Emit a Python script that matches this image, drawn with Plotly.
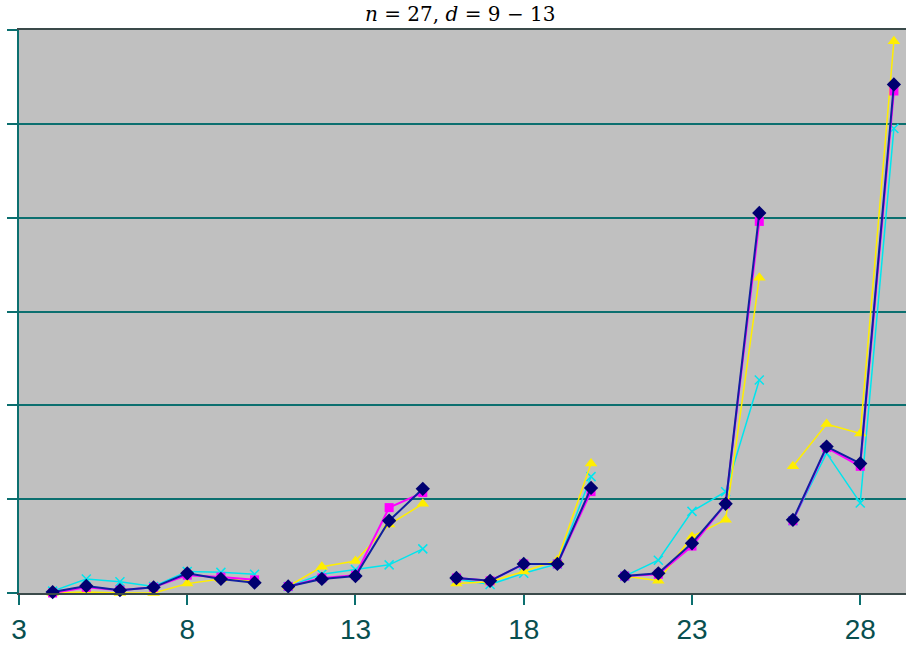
import plotly.graph_objects as go

# x positions; None separates the groups (no connecting line)
x_vals = [4, 5, 6, 7, 8, 9, 10, None,
          11, 12, 13, 14, 15, None,
          16, 17, 18, 19, 20, None,
          21, 22, 23, 24, 25, None,
          26, 27, 28, 29]

navy = [0.01, 0.075, 0.03, 0.06, 0.21, 0.15, 0.11, None,
        0.07, 0.15, 0.18, 0.77, 1.11, None,
        0.16, 0.13, 0.31, 0.31, 1.12, None,
        0.18, 0.21, 0.53, 0.95, 4.05, None,
        0.78, 1.56, 1.38, 5.42]
magenta = [0.0, 0.06, 0.03, 0.06, 0.19, 0.17, 0.14, None,
           0.07, 0.16, 0.19, 0.91, 1.07, None,
           0.16, 0.13, 0.31, 0.31, 1.08, None,
           0.18, 0.20, 0.50, 0.95, 3.96, None,
           0.77, 1.55, 1.35, 5.35]
yellow = [0.0, 0.01, 0.0, 0.0, 0.10, 0.15, 0.13, None,
          0.07, 0.28, 0.34, 0.73, 0.95, None,
          0.10, 0.12, 0.23, 0.35, 1.38, None,
          0.18, 0.13, 0.60, 0.78, 3.36, None,
          1.35, 1.80, 1.70, 5.88]
cyan = [0.02, 0.15, 0.12, 0.07, 0.23, 0.22, 0.20, None,
        0.07, 0.20, 0.25, 0.30, 0.47, None,
        0.15, 0.09, 0.21, 0.31, 1.24, None,
        0.18, 0.35, 0.87, 1.08, 2.27, None,
        0.77, 1.49, 0.96, 4.95]

x_ticks = [3, 8, 13, 18, 23, 28]
y_grid = [0, 1, 2, 3, 4, 5, 6]

TEAL = "#0b6f6f"

fig = go.Figure()
fig.add_trace(go.Scatter(x=x_vals, y=cyan, mode="lines+markers",
                         line=dict(color="#00e5ee", width=1.5),
                         marker=dict(symbol="x-thin", size=9, color="#00e5ee",
                                     line=dict(color="#00e5ee", width=1.5)),
                         connectgaps=False, cliponaxis=False, name="s4"))
fig.add_trace(go.Scatter(x=x_vals, y=yellow, mode="lines+markers",
                         line=dict(color="#ffee00", width=1.5),
                         marker=dict(symbol="triangle-up", size=11, color="#ffee00"),
                         connectgaps=False, cliponaxis=False, name="s3"))
fig.add_trace(go.Scatter(x=x_vals, y=magenta, mode="lines+markers",
                         line=dict(color="#ff00ff", width=2),
                         marker=dict(symbol="square", size=9, color="#ff00ff"),
                         connectgaps=False, cliponaxis=False, name="s2"))
fig.add_trace(go.Scatter(x=x_vals, y=navy, mode="lines+markers",
                         line=dict(color="#1020a0", width=2),
                         marker=dict(symbol="diamond", size=11, color="#000070"),
                         connectgaps=False, cliponaxis=False, name="s1"))

fig.update_layout(
    width=906, height=654,
    margin=dict(l=19, r=0, t=30, b=61),
    paper_bgcolor="white",
    plot_bgcolor="#c0c0c0",
    showlegend=False,
    title=dict(text="<i>n</i> = 27, <i>d</i> = 9 − 13",
               x=0.508, xanchor="center", y=0.978, yanchor="middle",
               font=dict(family="DejaVu Serif", size=20, color="black")),
)
fig.update_xaxes(range=[3, 29.36], tickvals=x_ticks, ticktext=[str(t) for t in x_ticks],
                 showgrid=False, zeroline=False, showline=True, mirror=True,
                 linecolor="#3a4a4a", linewidth=2,
                 ticks="outside", ticklen=10, tickwidth=2, tickcolor=TEAL,
                 tickfont=dict(family="Liberation Sans", size=28, color="#084f4f"))
fig.update_yaxes(range=[0, 6], tickvals=y_grid, showticklabels=False,
                 showgrid=True, gridcolor=TEAL, gridwidth=2, zeroline=False,
                 showline=True, linecolor=TEAL, linewidth=2,
                 ticks="outside", ticklen=10, tickwidth=2, tickcolor=TEAL)

# remove the browser's default 8px body margin so the figure fills the window
fig.write_html("out.html",
               config={"displayModeBar": False},
               post_script="document.body.style.margin='0px';document.body.style.overflow='hidden';")
